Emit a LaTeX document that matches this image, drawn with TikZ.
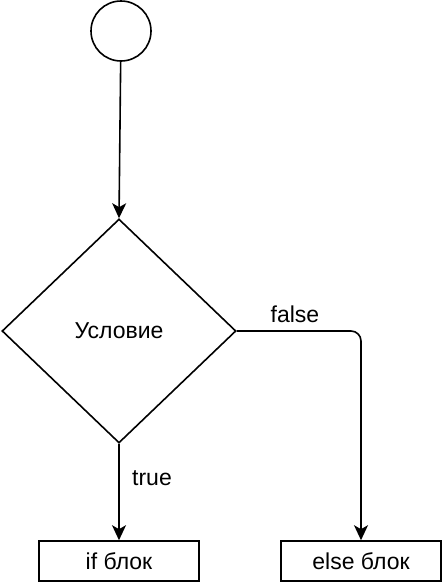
\documentclass[tikz,border=0pt]{standalone}
\usepackage{fontspec}
\setmainfont{Liberation Sans}
\usetikzlibrary{shapes.geometric,arrows.meta}

\begin{document}
\begin{tikzpicture}[x=1pt,y=-1pt,line width=1.6pt,>={Stealth[length=15pt,width=14pt,inset=4pt]},
  every node/.style={font=\fontsize{23pt}{26pt}\selectfont},
  blok/.style={draw,rectangle,minimum width=160pt,minimum height=40pt,inner sep=0pt}]
  \useasboundingbox (0,0) rectangle (442,584);
  \node[draw,circle,minimum size=60pt,inner sep=0pt] (start) at (121,31) {};
  \node[draw,diamond,aspect=1.045,minimum width=234pt,minimum height=224pt,inner sep=0pt] (cond) at (119,331) {Условие};
  \node[blok] (ifb) at (119,561) {if блок};
  \node[blok] (elseb) at (361,561) {else блок};
  \draw[->] (start) -- (cond.north);
  \draw[->] (cond.south) -- (ifb);
  \draw[->,rounded corners=10pt] (cond.east) -- (elseb.north |- cond.east) -- (elseb);
  \node (t) at (152,478) {true};
  \node (f) at (295,314) {false};
\end{tikzpicture}
\end{document}
